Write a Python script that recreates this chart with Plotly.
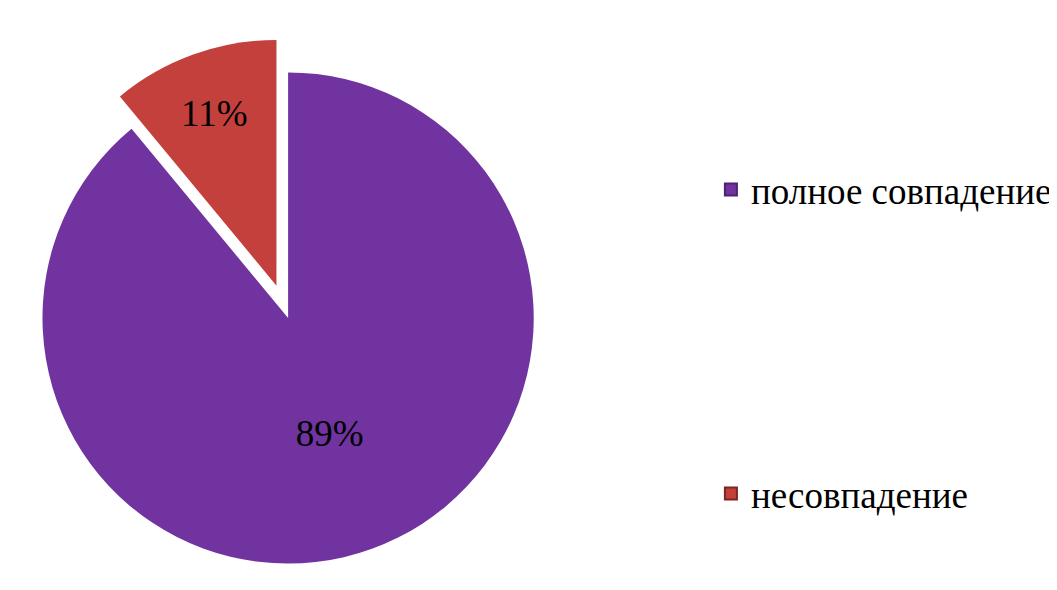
import plotly.graph_objects as go

categories = ["полное совпадение", "несовпадение"]
values = [89, 11]
pulls = [0, 0.14]
colors = ["#7033a0", "#c4403c"]
border_colors = ["#4e2272", "#7e2522"]

FONT = "Liberation Serif, Times New Roman, serif"
TOP = 30
H = 590 - TOP

fig = go.Figure()
fig.add_trace(go.Pie(
    labels=categories,
    values=values,
    pull=pulls,
    sort=False,
    direction="clockwise",
    rotation=0,
    marker=dict(colors=colors, line=dict(width=0)),
    texttemplate="%{percent:.0%}",
    textposition="inside",
    insidetextorientation="horizontal",
    textfont=dict(family=FONT, size=37, color="black"),
    showlegend=False,
    domain=dict(x=[0, 0.53], y=[0, 1]),
    hoverinfo="label+percent",
))

legend_names = ["legend", "legend2"]
for name, col, bcol, leg in zip(categories, colors, border_colors, legend_names):
    fig.add_trace(go.Scatter(
        x=[None], y=[None], mode="markers", name=name,
        marker=dict(symbol="square", size=17, color=col, line=dict(color=bcol, width=1.5)),
        legend=leg, showlegend=True,
    ))

legend_style = dict(font=dict(family=FONT, size=37, color="black"),
                    bgcolor="rgba(0,0,0,0)", xanchor="left", yanchor="middle",
                    itemsizing="constant")
fig.update_layout(
    width=1057, height=590,
    margin=dict(l=0, r=0, t=TOP, b=0),
    paper_bgcolor="white", plot_bgcolor="white",
    xaxis=dict(visible=False), yaxis=dict(visible=False),
    legend=dict(x=0.665, y=1 - (182 - TOP) / H, **legend_style),
    legend2=dict(x=0.665, y=1 - (486 - TOP) / H, **legend_style),
)

fig.write_html("out.html")
